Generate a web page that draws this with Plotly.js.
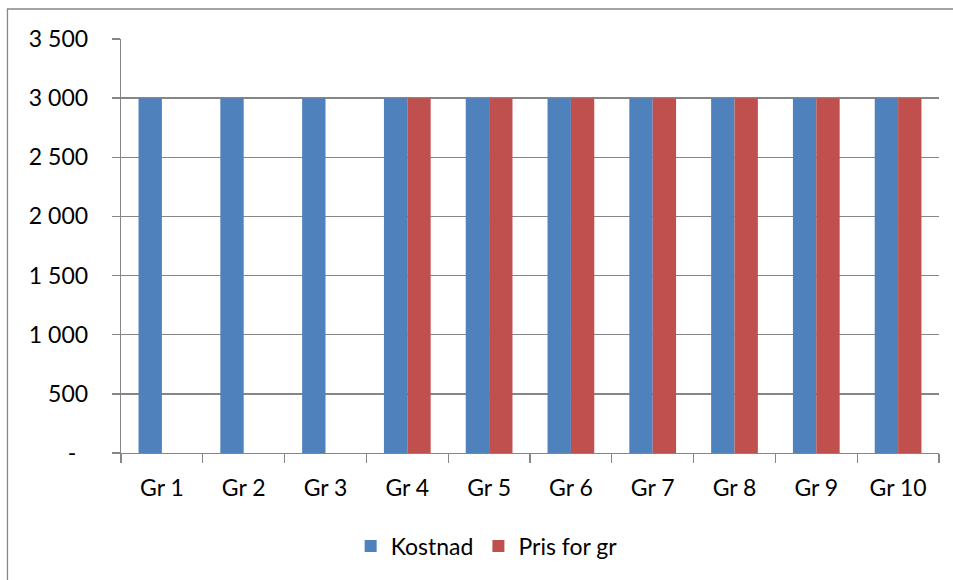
<!DOCTYPE html>
<html>
<head>
<meta charset="utf-8">
<script src="https://cdn.plot.ly/plotly-3.0.1.min.js"></script>
<style>
html,body{margin:0;padding:0;background:#fff;}
#chart{width:953px;height:580px;}
</style>
</head>
<body>
<div id="chart"></div>
<script>
var categories = ["Gr 1","Gr 2","Gr 3","Gr 4","Gr 5","Gr 6","Gr 7","Gr 8","Gr 9","Gr 10"];
var kostnad = [3000,3000,3000,3000,3000,3000,3000,3000,3000,3000];
var prisForGr = [null,null,null,3000,3000,3000,3000,3000,3000,3000];
var seriesNames = ["Kostnad","Pris for gr"];
var yTickVals = [0,500,1000,1500,2000,2500,3000,3500];
var yTickText = ["-\u00a0\u00a0","500","1 000","1 500","2 000","2 500","3 000","3 500"];

var font = "Lato, 'Open Sans', sans-serif";
var gray = "#868686";
var fs = 23;

var traces = [
  {type:"bar", name:seriesNames[0], x:categories, y:kostnad,
   marker:{color:"#4F81BD", line:{width:0}}},
  {type:"bar", name:seriesNames[1], x:categories, y:prisForGr,
   marker:{color:"#C0504D", line:{width:0}}}
];

var layout = {
  width:953, height:580,
  paper_bgcolor:"#fff", plot_bgcolor:"#fff",
  margin:{l:121, r:14, t:39, b:127},
  barmode:"group", bargap:0.4286, bargroupgap:0,
  font:{family:font, size:fs, color:"#000"},
  showlegend:true,
  legend:{orientation:"h", x:0.447, xanchor:"center", y:-0.225, yanchor:"middle",
          font:{family:font, size:fs, color:"#000"}, itemwidth:30, traceorder:"normal"},
  xaxis:{type:"category", tickson:"boundaries", ticks:"outside", ticklen:9,
         tickcolor:gray, tickwidth:1.3, showline:true, linecolor:gray, linewidth:1.3,
         showgrid:false, ticklabelstandoff:14,
         tickfont:{family:font, size:fs, color:"#000"}},
  yaxis:{range:[0,3500], tickmode:"array", tickvals:yTickVals, ticktext:yTickText,
         ticks:"outside", ticklen:8, tickcolor:gray, tickwidth:1.3,
         showline:true, linecolor:gray, linewidth:1.3,
         showgrid:true, gridcolor:gray, gridwidth:1.3, zeroline:false,
         ticklabelstandoff:19,
         tickfont:{family:font, size:fs, color:"#000"}},
  shapes:[
    {type:"rect", xref:"paper", yref:"paper", x0:-0.1388, x1:1.03, y0:-0.34, y1:1.0725,
     line:{color:gray, width:1.3}, fillcolor:"rgba(0,0,0,0)", layer:"below"}
  ]
};

Plotly.newPlot("chart", traces, layout, {displayModeBar:false, staticPlot:true});
</script>
</body>
</html>
